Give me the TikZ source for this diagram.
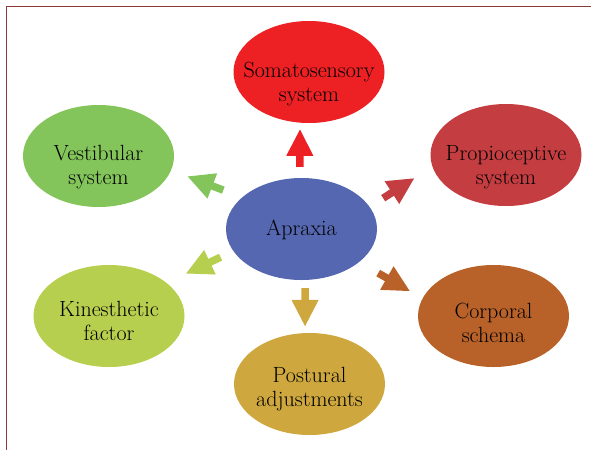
\documentclass[tikz,border=0pt]{standalone}
\usepackage{tikz}
\usetikzlibrary{arrows.meta,shapes.geometric}
\tikzset{every picture/.style={
  >={Triangle[length=27pt,width=25pt]}   % Fat block-arrow heads.
  }
}

\definecolor{framered}{HTML}{8C3B3B}
\definecolor{apraxblue}{HTML}{5567B0}
\definecolor{somared}{HTML}{ED2024}
\definecolor{vestgreen}{HTML}{84C55B}
\definecolor{propred}{HTML}{C43D41}
\definecolor{kinlime}{HTML}{B6CF4E}
\definecolor{corpbrown}{HTML}{B8622A}
\definecolor{postgold}{HTML}{CEA83E}

\begin{document}
\begin{tikzpicture}[
      x=1pt, y=-1pt,
      blob/.style={
        ellipse,
        fill=#1,
        inner sep=0pt,
        minimum width=151pt,
        minimum height=102pt
      },
      txt/.style={
        align=center,
        font=\fontsize{22}{24}\selectfont
      },
      fat/.style={
        draw=#1,
        line width=7.5pt,
        ->
      }]

      \useasboundingbox (0,0) rectangle (591,450);

      % Draw the frame.
      \draw[framered, line width=1.6pt] (6.5,450) -- (6.5,6.5) -- (591,6.5);

      % Draw the ellipses.
      \node[blob=apraxblue, label={[txt,yshift=-1pt]center:Apraxia}] (apraxia) at (301.5,229) {};
      \node[blob=somared, label={[txt,yshift=-12pt]center:Somatosensory\\system}] (soma) at (309,72) {};
      \node[blob=vestgreen, label={[txt,yshift=-11pt]center:Vestibular\\system}] (vestib) at (98.5,156) {};
      \node[blob=propred, label={[txt,yshift=-12pt]center:Propioceptive\\system}] (propio) at (506,155) {};
      \node[blob=kinlime, label={[txt,yshift=-5pt]center:Kinesthetic\\factor}] (kines) at (109,316) {};
      \node[blob=corpbrown, label={[txt,yshift=-7pt]center:Corporal\\schema}] (corpor) at (493.5,316) {};
      \node[blob=postgold, label={[txt,yshift=-5pt]center:Postural\\adjustments}] (postur) at (309.5,384) {};

      % Draw the arrows.
      \draw[fat=somared, shorten <=11pt, shorten >=6pt] (apraxia.92) -- (soma.-100);
      \draw[fat=postgold, shorten <=8pt, shorten >=6pt] (apraxia.-86) -- (postur.95);
      \draw[fat=vestgreen, shorten <=20pt, shorten >=17pt] (apraxia.152) -- (vestib.-11);
      \draw[fat=propred, shorten <=16pt, shorten >=21pt] (apraxia.18) -- (propio.-171);
      \draw[fat=kinlime, shorten <=14pt, shorten >=21pt] (apraxia.-162) -- (kines.30);
      \draw[fat=corpbrown, shorten <=22pt, shorten >=14pt] (apraxia.-30) -- (corpor.166);

    \end{tikzpicture}
\end{document}
